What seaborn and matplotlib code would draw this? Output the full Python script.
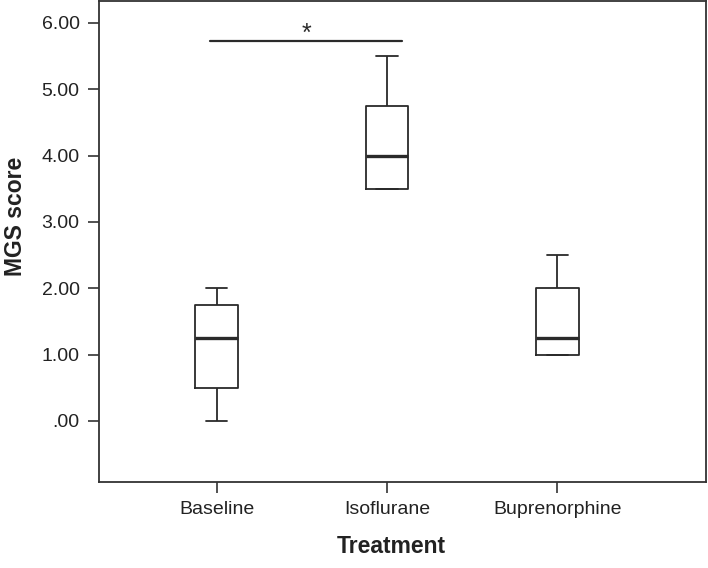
import matplotlib
matplotlib.use("Agg")
import matplotlib.pyplot as plt
import seaborn as sns
import pandas as pd

# Five-number summaries (min, Q1, median, Q3, max)
categories = ["Baseline", "Isoflurane", "Buprenorphine"]
baseline = [0.0, 0.5, 1.25, 1.75, 2.0]
isoflurane = [3.5, 3.5, 4.0, 4.75, 5.5]
buprenorphine = [1.0, 1.0, 1.25, 2.0, 2.5]
yticks = [0, 1, 2, 3, 4, 5, 6]
ytick_labels = [".00", "1.00", "2.00", "3.00", "4.00", "5.00", "6.00"]
sig_pair = ("Baseline", "Isoflurane")
sig_y = 5.72
sig_label = "*"

rows = []
for cat, vals in zip(categories, [baseline, isoflurane, buprenorphine]):
    for v in vals:
        rows.append({"Treatment": cat, "MGS score": v})
df = pd.DataFrame(rows)

sns.set_style("ticks")
plt.rcParams["font.family"] = ["Liberation Sans", "DejaVu Sans"]

fig = plt.figure(figsize=(7.08, 5.68), dpi=100)
ax = fig.add_axes([0.1398, 0.1514, 0.857, 0.8468])

lc = "#2a2a2a"
sns.boxplot(data=df, x="Treatment", y="MGS score", order=categories,
            width=0.25, fill=False, color=lc, linecolor=lc, linewidth=1.3,
            whis=1.5, showfliers=False, ax=ax,
            medianprops=dict(linewidth=2.4, color=lc))

ax.set_xlim(-0.69, 2.87)
ax.set_ylim(-0.92, 6.33)
ax.set_yticks(yticks)
ax.set_yticklabels(ytick_labels)

x0 = categories.index(sig_pair[0]) - 0.04
x1 = categories.index(sig_pair[1]) + 0.09
ax.plot([x0, x1], [sig_y, sig_y], color=lc, linewidth=1.6)
ax.text((x0 + x1) / 2, sig_y - 0.06, sig_label, ha="center", va="bottom",
        fontsize=18, color=lc)

for s in ax.spines.values():
    s.set_visible(True)
    s.set_linewidth(1.3)
    s.set_color("#333333")

ax.tick_params(axis="both", direction="out", length=8, width=1.2,
               color="#333333", labelsize=14, labelcolor="#222222", pad=6)
ax.set_xlabel("Treatment", fontsize=16.5, fontweight="bold",
              color="#222222")
ax.set_ylabel("MGS score", fontsize=16.5, fontweight="bold",
              color="#222222")
ax.xaxis.set_label_coords(0.482, -0.135)
ax.yaxis.set_label_coords(-0.137, 0.553)
ax.xaxis.label.set_va("center")
ax.yaxis.label.set_va("center")

fig.savefig("out.png", dpi=100)
